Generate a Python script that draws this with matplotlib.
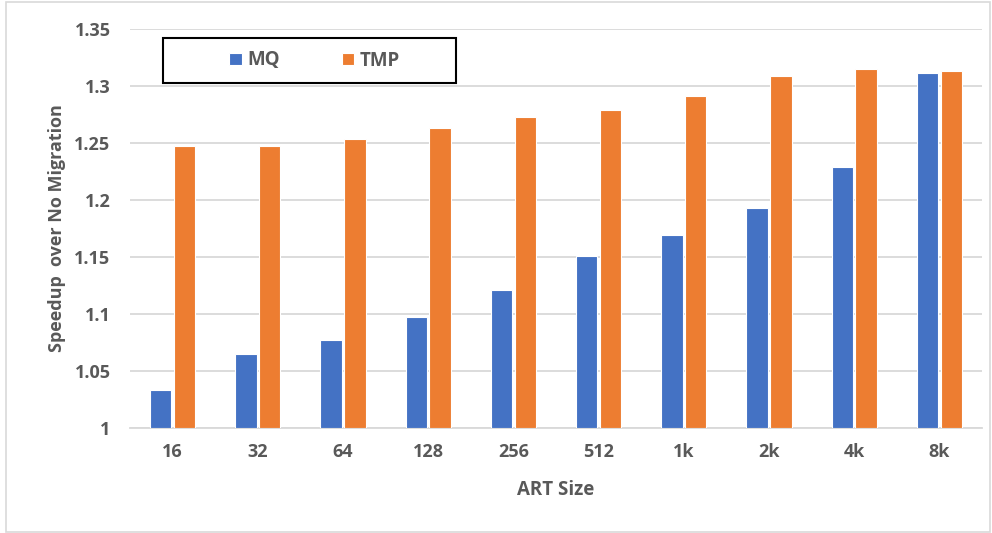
import matplotlib
matplotlib.use("Agg")
import matplotlib.pyplot as plt
from matplotlib.patches import Rectangle
import numpy as np

categories = ["16", "32", "64", "128", "256", "512", "1k", "2k", "4k", "8k"]
mq = [1.033, 1.065, 1.077, 1.097, 1.121, 1.151, 1.169, 1.193, 1.229, 1.311]
tmp = [1.247, 1.247, 1.253, 1.263, 1.273, 1.279, 1.291, 1.309, 1.315, 1.313]
yticks = [1, 1.05, 1.1, 1.15, 1.2, 1.25, 1.3, 1.35]
ytick_labels = ["1", "1.05", "1.1", "1.15", "1.2", "1.25", "1.3", "1.35"]

BLUE = "#4472C4"
ORANGE = "#ED7D31"
TEXT = "#595959"
GRID = "#D9D9D9"

plt.rcParams["font.family"] = ["Open Sans", "DejaVu Sans"]
plt.rcParams["font.weight"] = "bold"

fig = plt.figure(figsize=(9.92, 5.33), dpi=100)
ax = fig.add_axes([130 / 992, 1 - 427.7 / 533, 852 / 992, (427.7 - 29) / 533])

x = np.arange(len(categories))
w = 0.25
ax.bar(x - 0.14, np.array(mq) - 1, w, bottom=1, color=BLUE, edgecolor="white",
       linewidth=0.8, label="MQ", zorder=3)
ax.bar(x + 0.14, np.array(tmp) - 1, w, bottom=1, color=ORANGE, edgecolor="white",
       linewidth=0.8, label="TMP", zorder=3)

ax.set_xlim(-0.5, len(categories) - 0.5)
ax.set_ylim(1, 1.35)
ax.set_yticks(yticks)
ax.set_yticklabels(ytick_labels, fontweight="bold")
ax.set_xticks(x)
ax.set_xticklabels(categories, fontweight="bold")
ax.tick_params(axis="both", length=0, labelsize=13, labelcolor=TEXT)
ax.tick_params(axis="y", pad=14)
ax.tick_params(axis="x", pad=11)

ax.grid(axis="y", color=GRID, linewidth=1.3, zorder=0)
for side in ["top", "right", "left"]:
    ax.spines[side].set_visible(False)
ax.spines["bottom"].set_color(GRID)
ax.spines["bottom"].set_linewidth(1.3)
ax.set_axisbelow(True)

ax.set_xlabel("ART Size", fontsize=13.5, color=TEXT, fontweight="bold", labelpad=14)
ax.set_ylabel("Speedup  over No Migration", fontsize=13, color=TEXT,
              fontweight="bold", labelpad=6)

# legend frame spanning a fixed box, entries centred inside it
box_l, box_r = (163 - 130) / 852, (456 - 130) / 852
box_t, box_b = 1 - (37.7 - 29) / 398.7, 1 - (83.3 - 29) / 398.7
ax.add_patch(Rectangle((box_l, box_b), box_r - box_l, box_t - box_b,
                       transform=ax.transAxes, fill=True, facecolor="white",
                       edgecolor="black", linewidth=1.5, zorder=5))
leg = ax.legend(loc="center", bbox_to_anchor=((box_l + box_r) / 2 + 0.006, (box_t + box_b) / 2),
                ncol=2, frameon=False,
                handlelength=0.65, handleheight=0.65, handletextpad=0.3,
                columnspacing=3.3, prop={"weight": "bold", "size": 13.5})
leg.set_zorder(6)
for t in leg.get_texts():
    t.set_color(TEXT)

fig.patches.append(Rectangle((6 / 992, 1 / 533), 984 / 992, 530 / 533,
                             transform=fig.transFigure, fill=False,
                             edgecolor=GRID, linewidth=1.2))

fig.savefig("out.png", dpi=100)
